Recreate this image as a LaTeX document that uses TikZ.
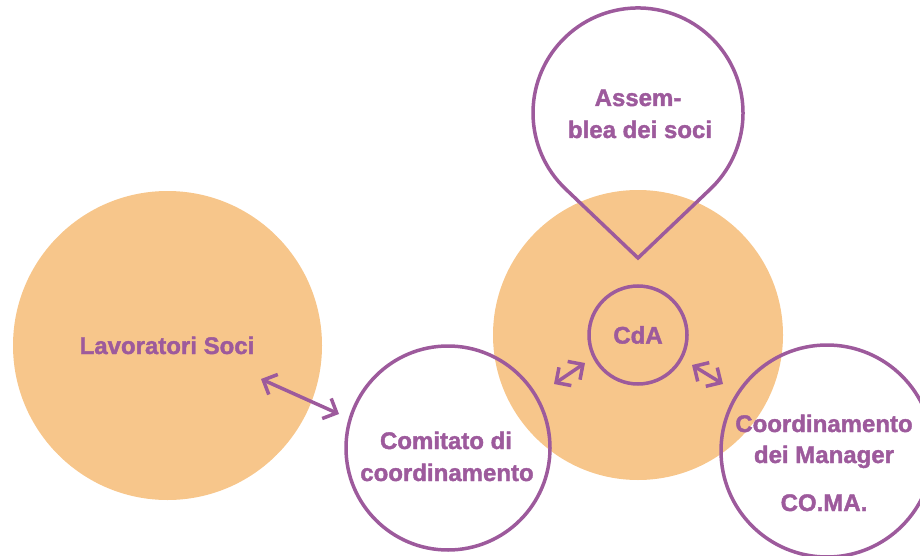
\documentclass[tikz,border=0pt]{standalone}
\usepackage{fontspec}
\setmainfont{Liberation Sans}[BoldFeatures={FakeBold=1.6}]
\usetikzlibrary{arrows.meta}
\definecolor{orng}{HTML}{F7C68B}
\definecolor{purp}{HTML}{9D5A9C}
\begin{document}
\begin{tikzpicture}[x=1pt,y=-1pt,
  lbl/.style={text=purp, font=\bfseries\fontsize{24}{32}\selectfont, inner sep=0pt, anchor=base},
  ring/.style={draw=purp, line width=3.5pt, circle, inner sep=0pt},
  blob/.style={fill=orng, circle, inner sep=0pt},
  dbl/.style={draw=purp, line width=3.5pt, {Straight Barb[length=11pt,width=22pt]}-{Straight Barb[length=11pt,width=22pt]}}]
\useasboundingbox (0,0) rectangle (920,556);
% orange discs
\node[blob, minimum size=309pt] (lavoratori) at (167.5,345.5) {};
\node[blob, minimum size=290pt] (cdabg) at (638,335) {};
% pin of the assembly
\draw[purp, line width=3.5pt, line join=miter] (638,258) -- (565.6,189) arc[start angle=133.6, end angle=406.4, radius=105] -- cycle;
\node[lbl] (ass1) at (638,106) {Assem-};
\node[lbl] (ass2) at (640,138) {blea dei soci};
% rings
\node[ring, minimum size=98pt, text=purp, font=\bfseries\fontsize{24}{32}\selectfont] (cda) at (638,335) {CdA};
\node[ring, minimum size=204pt] (comitato) at (448,448) {};
\node[ring, minimum size=212pt] (coma) at (827,451) {};
% labels
\node[lbl] (lav) at (167,354) {Lavoratori Soci};
\node[lbl] (com1) at (446,449) {Comitato di};
\node[lbl] (com2) at (447,481) {coordinamento};
\node[lbl] (coma1) at (824,432) {Coordinamento};
\node[lbl] (coma2) at (824,463) {dei Manager};
\node[lbl] (coma3) at (824,511) {CO.MA.};
% arrows
\coordinate (a1s) at (261,379);
\coordinate (a1e) at (339,414);
\coordinate (a2s) at (554,384);
\coordinate (a2e) at (585,363);
\coordinate (a3s) at (692,365);
\coordinate (a3e) at (723,384);
\draw[dbl] (a1s) -- (a1e);
\draw[dbl] (a2s) -- (a2e);
\draw[dbl] (a3s) -- (a3e);
\end{tikzpicture}
\end{document}
